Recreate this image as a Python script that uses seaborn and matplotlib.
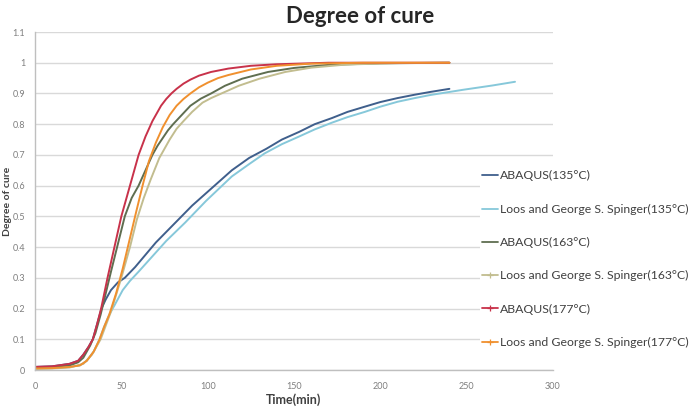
import numpy as np
import pandas as pd
import seaborn as sns
import matplotlib.pyplot as plt
from matplotlib.lines import Line2D

# values
t_abq135 = [0, 10, 20, 25, 28, 31, 33.5, 36, 38.5, 41, 44, 48, 52, 58, 64, 70, 77, 84, 91, 98, 105, 114, 124, 134, 143, 153, 162, 172, 181, 191, 200, 210, 220, 229, 240]
v_abq135 = [0.01, 0.012, 0.02, 0.03, 0.05, 0.075, 0.1, 0.15, 0.2, 0.23, 0.26, 0.285, 0.30, 0.335, 0.375, 0.415, 0.455, 0.495, 0.535, 0.57, 0.605, 0.65, 0.69, 0.72, 0.75, 0.775, 0.80, 0.82, 0.84, 0.857, 0.872, 0.885, 0.896, 0.905, 0.915]

t_loos135 = [0, 10, 20, 26, 30, 34, 37.4, 40, 43, 46, 50.8, 55, 60, 68, 76, 87, 99, 114, 124, 133, 143, 153, 162, 172, 181, 191, 200, 210, 220, 229, 248, 265, 278]
v_loos135 = [0.005, 0.006, 0.01, 0.015, 0.03, 0.06, 0.1, 0.14, 0.18, 0.21, 0.26, 0.29, 0.32, 0.37, 0.42, 0.48, 0.55, 0.63, 0.67, 0.705, 0.735, 0.76, 0.783, 0.805, 0.823, 0.84, 0.857, 0.873, 0.885, 0.895, 0.912, 0.926, 0.938]

t_abq163 = [0, 10, 20, 25, 28, 32, 35, 38, 41, 44, 48, 52, 56, 60, 64, 68, 71, 74, 77, 80, 85, 90, 96, 102, 110, 120, 135, 150, 170, 200, 240]
v_abq163 = [0.008, 0.01, 0.015, 0.025, 0.04, 0.08, 0.12, 0.18, 0.25, 0.32, 0.41, 0.5, 0.56, 0.6, 0.65, 0.7, 0.73, 0.755, 0.78, 0.8, 0.83, 0.86, 0.883, 0.9, 0.925, 0.948, 0.97, 0.983, 0.993, 0.998, 1.0]

t_loos163 = [0, 10, 20, 28, 33, 38, 44, 50, 55, 59, 63, 67, 72, 75, 78, 82, 86, 91, 97, 102, 108, 118, 130, 145, 160, 180, 210, 240]
v_loos163 = [0.003, 0.005, 0.008, 0.02, 0.05, 0.1, 0.19, 0.3, 0.4, 0.49, 0.56, 0.62, 0.69, 0.72, 0.75, 0.785, 0.81, 0.84, 0.87, 0.885, 0.9, 0.925, 0.948, 0.97, 0.984, 0.994, 0.999, 1.0]

t_abq177 = [0, 10, 20, 25, 28, 31, 33.5, 36, 38.3, 42, 46, 50, 53, 56.5, 60, 62, 64, 66, 68, 70, 73, 76, 79, 82, 86, 90, 95, 102, 112, 125, 140, 170, 240]
v_abq177 = [0.01, 0.012, 0.02, 0.03, 0.05, 0.075, 0.1, 0.15, 0.2, 0.3, 0.4, 0.5, 0.56, 0.63, 0.7, 0.73, 0.76, 0.785, 0.81, 0.83, 0.86, 0.882, 0.9, 0.915, 0.932, 0.945, 0.958, 0.97, 0.981, 0.99, 0.995, 1.0, 1.0]

t_loos177 = [0, 10, 20, 26, 30, 34, 37.4, 40, 43, 47, 50.8, 54.6, 58.4, 62.3, 66, 70, 74, 78, 82, 86, 90, 95, 100, 106, 112, 125, 140, 160, 190, 240]
v_loos177 = [0.005, 0.006, 0.01, 0.015, 0.03, 0.06, 0.1, 0.14, 0.18, 0.25, 0.33, 0.42, 0.51, 0.6, 0.68, 0.74, 0.79, 0.83, 0.86, 0.882, 0.9, 0.92, 0.935, 0.95, 0.96, 0.978, 0.99, 0.997, 1.0, 1.0]

labels = ['ABAQUS(135°C)', 'Loos and George S. Spinger(135°C)',
          'ABAQUS(163°C)', 'Loos and George S. Spinger(163°C)',
          'ABAQUS(177°C)', 'Loos and George S. Spinger(177°C)']
series = [(t_abq135, v_abq135), (t_loos135, v_loos135),
          (t_abq163, v_abq163), (t_loos163, v_loos163),
          (t_abq177, v_abq177), (t_loos177, v_loos177)]
colors = ['#3f5f8c', '#86c8da', '#5f6e50', '#c2bd8f', '#c8324a', '#f0902e']
markers = [None, None, None, '+', '+', '+']

sns.set_style('white')
plt.rcParams['font.family'] = ['Lato', 'DejaVu Sans']

fig = plt.figure(figsize=(6.92, 4.08), dpi=100)
ax = fig.add_axes([35/692, 1 - 370/408, (553 - 35)/692, (370 - 32)/408])

for (t, v), lab, c in zip(series, labels, colors):
    df = pd.DataFrame({'t': t, 'v': v})
    sns.lineplot(data=df, x='t', y='v', ax=ax, color=c, linewidth=1.4, legend=False)

ax.set_xlim(0, 300)
ax.set_ylim(0, 1.1)
ax.set_xticks(np.arange(0, 301, 50))
ax.set_yticks(np.arange(0, 1.11, 0.1))
ax.set_yticklabels(['0', '0.1', '0.2', '0.3', '0.4', '0.5', '0.6', '0.7', '0.8', '0.9', '1', '1.1'])
ax.yaxis.grid(True, color='#d9d9d9', linewidth=1)
ax.xaxis.grid(False)
ax.set_axisbelow(True)
for s in ['top', 'right']:
    ax.spines[s].set_visible(False)
for s in ['left', 'bottom']:
    ax.spines[s].set_color('#bfbfbf')
    ax.spines[s].set_linewidth(1)
ax.tick_params(axis='y', labelsize=6.5, colors='#7f7f7f', length=0, pad=7)
ax.tick_params(axis='x', labelsize=6.5, labelcolor='#7f7f7f', length=3, color='#bfbfbf',
               direction='inout', pad=7)

ax.set_xlabel('Time(min)', fontsize=9, fontweight='bold', color='#404040')
ax.xaxis.set_label_coords(0.5, (370 - 393) / 338)
ax.set_ylabel('Degree of cure', fontsize=7.5, fontweight='bold', color='#404040')
ax.yaxis.set_label_coords(-0.045, 0.5)
fig.suptitle('Degree of cure', x=0.52, y=0.985, fontsize=16, fontweight='bold', color='#262626')

handles = [Line2D([], [], color=c, linewidth=1.3, marker=m, markersize=4, markeredgewidth=0.9)
           for c, m in zip(colors, markers)]
ax.legend(handles, labels, loc='upper left', bbox_to_anchor=(480/692, 1 - 168/408),
          bbox_transform=fig.transFigure, frameon=True, facecolor='white', edgecolor='none',
          framealpha=1, fontsize=8.8, labelspacing=1.82, handlelength=1.3, handletextpad=0.15,
          borderpad=0.2, borderaxespad=0, labelcolor='#404040')

plt.savefig('out.png', dpi=100)
